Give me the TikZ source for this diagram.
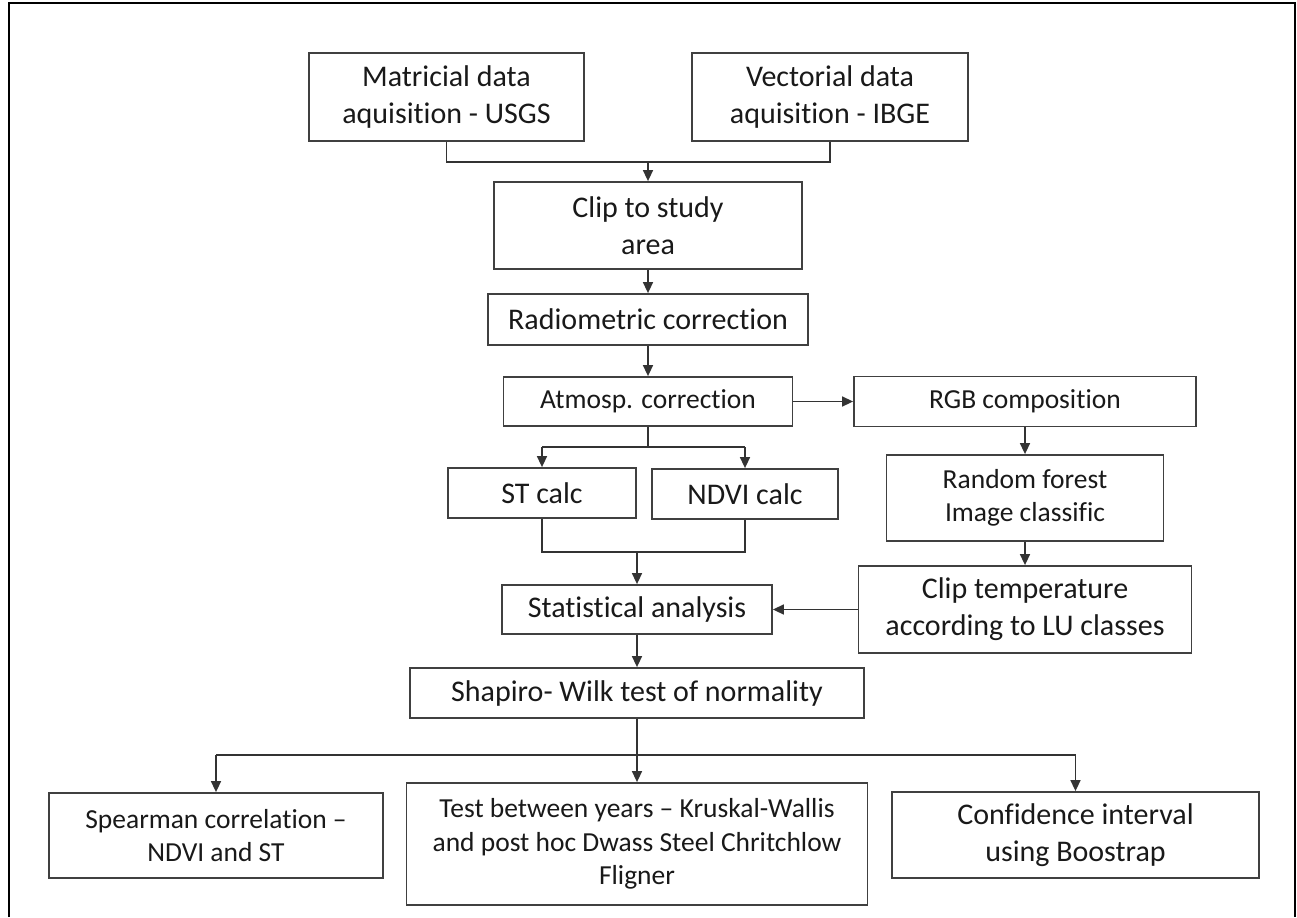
\documentclass[tikz,border=0pt]{standalone}
\usepackage{fontspec}
\setmainfont{Carlito}[Ligatures=NoCommon]
\usetikzlibrary{arrows.meta}

\begin{document}
\begin{tikzpicture}[x=0.5pt,y=-0.5pt,>={Triangle[length=5.5pt,width=5pt]},
	box/.style={draw=black!75,line width=0.9pt,align=center,inner sep=0pt,text=black!90},
	big/.style={font=\fontsize{15}{18.5}\selectfont},
	small/.style={font=\fontsize{13.75}{16.8}\selectfont},
	dims/.style 2 args={minimum width=#1*0.5pt,minimum height=#2*0.5pt},
	link/.style={black!80,line width=0.75pt}]
	\useasboundingbox (0,0) rectangle (1297,917);
	\draw[line width=1.2pt] (9,917) -- (9,3) -- (1295,3) -- (1295,917);
	% left column
	\node[box,big,dims={275}{88}] (mat) at (446.5,97) {Matricial data\\aquisition - USGS};
	\node[box,big,dims={276}{88}] (vec) at (830,97) {Vectorial data\\aquisition - IBGE};
	\node[box,big,dims={308}{87}] (clip) at (648,225.5) {Clip to study\\area};
	\node[box,big,dims={320}{51}] (radio) at (648,319.5) {Radiometric correction};
	\node[box,small,dims={289}{49}] (atm) at (648,401.5) {Atmosp. correction};
	\node[box,big,dims={188}{50}] (st) at (542,493) {ST calc};
	\node[box,big,dims={186}{50}] (ndvi) at (745,494) {NDVI calc};
	\node[box,big,dims={270}{49}] (stat) at (637,609.5) {Statistical analysis};
	\node[box,big,dims={454}{50}] (shap) at (637,693) {Shapiro- Wilk test of normality};
	% right column
	\node[box,small,dims={342}{50}] (rgb) at (1025,401.5) {RGB composition};
	\node[box,small,dims={277}{86}] (rf) at (1025,498) {Random forest\\Image classific};
	\node[box,big,dims={333}{87}] (cliptemp) at (1025,609.5) {Clip temperature\\according to LU classes};
	% bottom row
	\node[box,small,dims={334}{85}] (spear) at (216,835.5) {Spearman correlation --\\NDVI and ST};
	\node[box,small,dims={461}{122},font=\fontsize{13.75}{16.75}\selectfont] (test) at (637,844) {Test between years -- Kruskal-Wallis\\and post hoc Dwass Steel Chritchlow\\Fligner};
	\node[box,big,dims={367}{86}] (conf) at (1075.5,835) {Confidence interval\\using Boostrap};
	% joints
	\coordinate (j1) at (648,162);
	\coordinate (j2) at (648,447);
	\coordinate (j3) at (637,552);
	\coordinate (j4) at (637,755);
	\draw[link] (mat.south) |- (j1) -| (vec.south);
	\draw[link] (atm.south) -- (j2);
	\draw[link] (st.north |- j2) -- (ndvi.north |- j2);
	\draw[link] (st.south) |- (j3) -| (ndvi.south);
	\draw[link] (shap.south) -- (j4);
	\draw[link] (spear.north |- j4) -- (conf.north |- j4);
	\path[->,link]
	(j1) edge (clip)
	(clip) edge (radio)
	(radio) edge (atm)
	(atm) edge (rgb)
	(st.north |- j2) edge (st)
	(ndvi.north |- j2) edge (ndvi)
	(j3) edge (stat)
	(rgb) edge (rf)
	(rf) edge (cliptemp)
	(cliptemp) edge (stat)
	(stat) edge (shap)
	(spear.north |- j4) edge (spear)
	(j4) edge (test)
	(conf.north |- j4) edge (conf);
\end{tikzpicture}
\end{document}
